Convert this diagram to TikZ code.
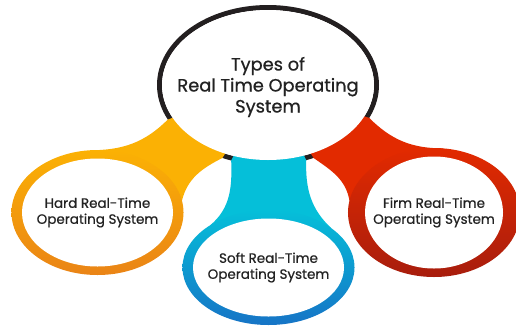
\documentclass[tikz,border=0pt]{standalone}
\usepackage{fontspec}
\setmainfont{Poppins}[FakeBold=0.7]
\usetikzlibrary{shapes.geometric}
\definecolor{ringblack}{HTML}{231F20}
\definecolor{hardgold}{HTML}{FBB104}
\definecolor{harddark}{HTML}{EA8416}
\definecolor{softcyan}{HTML}{05BFD9}
\definecolor{softdark}{HTML}{1674C6}
\definecolor{firmred}{HTML}{E22A00}
\definecolor{firmdark}{HTML}{A81D0D}
\definecolor{labeltext}{HTML}{222222}
\pgfdeclarelayer{back}
\pgfsetlayers{back,main}
\tikzset{
  typering/.style n args={4}{ellipse, inner sep=0pt, outer sep=0pt, align=center,
    minimum width=#1, minimum height=#2, top color=#3, middle color=#3, bottom color=#4,
    font=\fontsize{13.5}{16}\selectfont, text=labeltext,
    path picture={\fill[white] (path picture bounding box.center) ellipse [x radius=#1/2-10pt, y radius=#2/2-8.5pt];}},
}
\begin{document}
\begin{tikzpicture}[x=1pt,y=1pt]
    \useasboundingbox (0,0) rectangle (516,-325);
    % centre and the three kinds
    \node[ellipse, fill=white, minimum width=212pt, minimum height=150pt, inner sep=0pt, outer sep=5pt,
      label={[align=center, font=\fontsize{17.8}{21}\selectfont, text=labeltext, yshift=-2pt]center:Types of\\Real Time Operating\\System}] (title) at (268,-85) {};
    \node[typering={171pt}{125pt}{hardgold}{harddark}] (hard) at (97.5,-212.5) {Hard Real-Time\\Operating System};
    \node[typering={171pt}{115pt}{softcyan}{softdark}] (soft) at (268.5,-267.5) {Soft Real-Time\\Operating System};
    \node[typering={158pt}{129pt}{firmred}{firmdark}] (firm) at (434,-212.5) {Firm Real-Time\\Operating System};

    \begin{pgfonlayer}{back}
    \node[ellipse, draw=ringblack, line width=5pt, minimum width=217pt, minimum height=155pt] (ring) at (title) {};
    % connectors
    \fill[hardgold] (title.199) to[out=225,in=0] (hard.97) -- (hard.center) -- (hard.8) to[out=76,in=207] (title.238) -- (title.center) -- cycle;
    \fill[softcyan] (title.244) to[out=272,in=40] (soft.144) -- (soft.center) -- (soft.32) to[out=137,in=268] (title.297) -- (title.center) -- cycle;
    \fill[firmred] (title.342) to[out=315,in=180] (firm.82) -- (firm.center) -- (firm.172) to[out=100,in=325] (title.302) -- (title.center) -- cycle;
    \end{pgfonlayer}
\end{tikzpicture}
\end{document}
